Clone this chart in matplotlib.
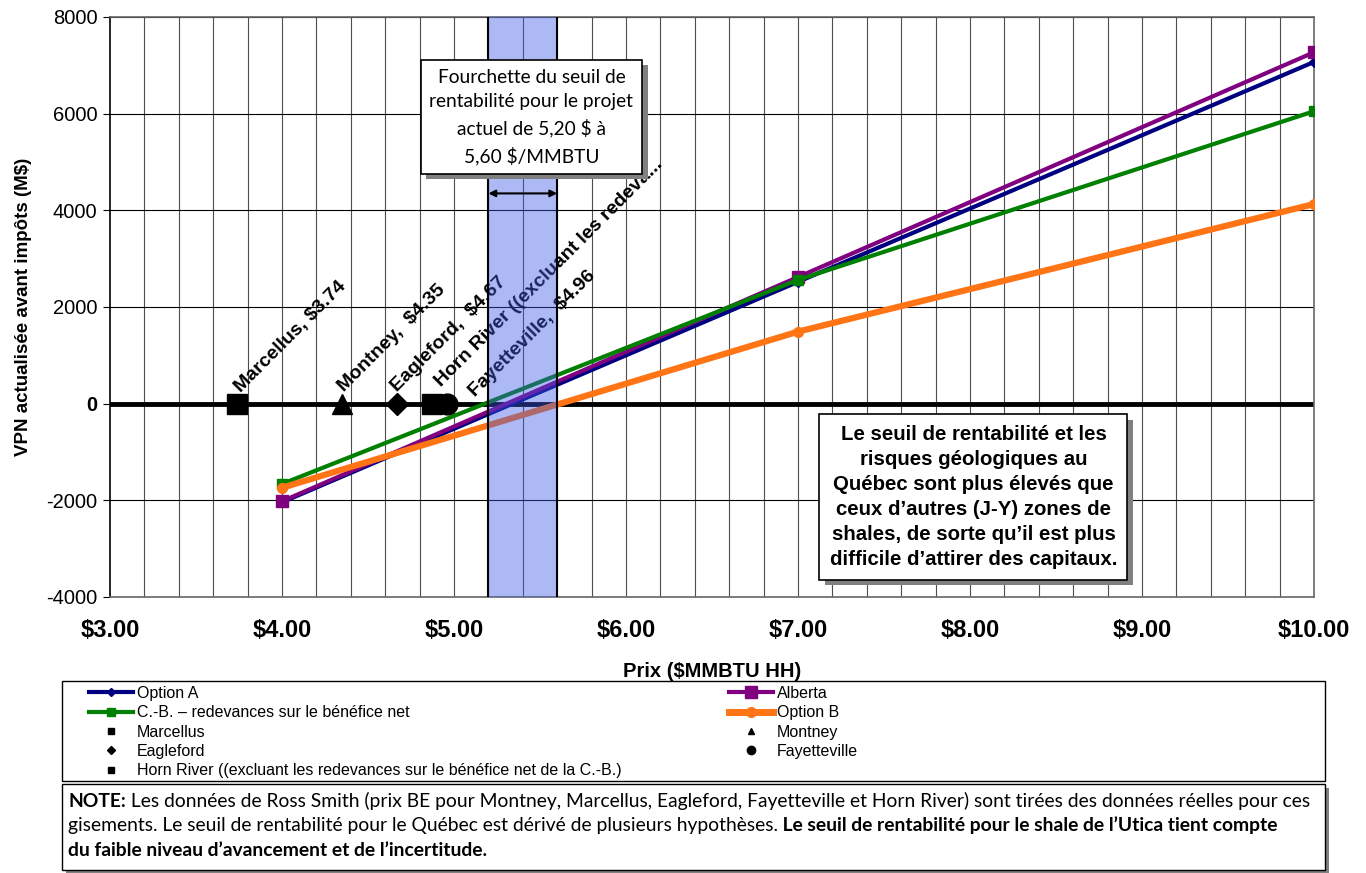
import numpy as np
import matplotlib.pyplot as plt
import matplotlib
from matplotlib.lines import Line2D
from matplotlib.patches import Rectangle
from matplotlib.transforms import IdentityTransform
import matplotlib.patheffects as pe

matplotlib.rcParams["font.family"] = ["Liberation Sans", "DejaVu Sans"]

## Data
prices = [4.0, 7.0, 10.0]
option_a = [-2040, 2520, 7070]
alberta = [-2020, 2620, 7270]
cb_net = [-1660, 2560, 6050]
option_b = [-1740, 1490, 4130]

plays = ["Marcellus", "Montney", "Eagleford", "Horn River", "Fayetteville"]
play_price = [3.74, 4.35, 4.67, 4.87, 4.96]
play_npv = [0, 0, 0, 0, 0]
play_labels = ["Marcellus, $3.74", "Montney,  $4.35", "Eagleford,  $4.67",
               "Horn River ((excluant les redeva...", "Fayetteville,  $4.96"]
play_legend = ["Marcellus", "Montney", "Eagleford", "Fayetteville",
               "Horn River ((excluant les redevances sur le bénéfice net de la C.-B.)"]

be_low, be_high = 5.20, 5.60
xticks = [3, 4, 5, 6, 7, 8, 9, 10]
xtick_labels = ["$3.00", "$4.00", "$5.00", "$6.00", "$7.00", "$8.00", "$9.00", "$10.00"]
yticks = [-4000, -2000, 0, 2000, 4000, 6000, 8000]

W, H = 1366, 873
fig = plt.figure(figsize=(W / 100, H / 100), dpi=100)
ax = fig.add_axes([110 / W, 1 - 597 / H, (1314 - 110) / W, (597 - 17) / H])

ax.set_xlim(3, 10)
ax.set_ylim(-4000, 8000)

# grid: vertical every 0.2, horizontal every 2000
for gx in np.arange(3.2, 10.0, 0.2):
    ax.axvline(gx, color="#4d4d4d", lw=0.8, zorder=1)
for gy in yticks:
    ax.axhline(gy, color="black", lw=0.8, zorder=1)
ax.axhline(0, color="black", lw=3.5, zorder=2)

ax.plot(prices, option_a, color="#000080", lw=3, marker="D", ms=5, zorder=3)
ax.plot(prices, alberta, color="#800080", lw=3, marker="s", ms=9, zorder=3)
ax.plot(prices, cb_net, color="#008000", lw=3, marker="s", ms=7, zorder=3)
ax.plot(prices, option_b, color="#ff7415", lw=4.5, marker="o", ms=7, zorder=3)

markers = ["s", "^", "D", "s", "o"]
msizes = [14, 14, 11, 14, 15]
for p, v, m, s in zip(play_price, play_npv, markers, msizes):
    ax.plot([p], [v], marker=m, ms=s, color="black", ls="none", zorder=4)

label_off = [(4, 11), (2, 11), (0, 11), (10, 16), (28, 6)]
for p, v, lab, off in zip(play_price, play_npv, play_labels, label_off):
    ax.annotate(lab, (p, v), xytext=off, textcoords="offset pixels", rotation=45,
                rotation_mode="anchor", ha="left", va="baseline", fontsize=14,
                fontweight="bold", zorder=4)

# break-even range band
ax.axvspan(be_low, be_high, facecolor=(60 / 255, 90 / 255, 230 / 255), alpha=0.42,
           lw=0, zorder=5)
ax.axvline(be_low, color="black", lw=1.5, zorder=5)
ax.axvline(be_high, color="black", lw=1.5, zorder=5)
ax.annotate("", xy=(be_low, 4350), xytext=(be_high, 4350),
            arrowprops=dict(arrowstyle="<|-|>", color="black", lw=1.5,
                            shrinkA=0, shrinkB=0), zorder=6)

shadow = [pe.withSimplePatchShadow(offset=(4, -4), shadow_rgbFace="#808080", alpha=1)]
t1 = ax.text(5.45, 5935, "Fourchette du seuil de\nrentabilité pour le projet\nactuel de 5,20 $ à\n5,60 $/MMBTU",
             ha="center", va="center", fontsize=13.8, family=["Lato", "DejaVu Sans"],
             linespacing=1.56, zorder=7,
             bbox=dict(boxstyle="square,pad=0.45", fc="white", ec="black", lw=1.2))
t1.get_bbox_patch().set_path_effects(shadow)

t2 = ax.text(8.02, -1930, "Le seuil de rentabilité et les\nrisques géologiques au\nQuébec sont plus élevés que\n"
             "ceux d’autres (J-Y) zones de\nshales, de sorte qu’il est plus\ndifficile d’attirer des capitaux.",
             ha="center", va="center", fontsize=14.7, fontweight="bold", linespacing=1.41,
             zorder=7, bbox=dict(boxstyle="square,pad=0.5", fc="white", ec="black", lw=1.2))
t2.get_bbox_patch().set_path_effects(shadow)

ax.set_xticks(xticks)
ax.set_xticklabels(xtick_labels, fontsize=17, fontweight="bold")
ax.set_yticks(yticks)
ax.set_yticklabels([str(v) for v in yticks], fontsize=14.5)
for lab in ax.get_yticklabels():
    if lab.get_text() == "0":
        lab.set_fontweight("bold")
ax.tick_params(axis="x", length=0, pad=16)
ax.tick_params(axis="y", length=5, pad=4)
for s in ax.spines.values():
    s.set_color("#666666")
    s.set_linewidth(1.2)
ax.spines["left"].set_color("black")

ax.set_xlabel("Prix ($MMBTU HH)", fontsize=14.5, fontweight="bold", labelpad=14)
ax.set_ylabel("VPN actualisée avant impôts (M$)", fontsize=13.5, fontweight="bold", labelpad=10)

# legend: frame plus two columns of entries
fig.patches.append(Rectangle((62, H - 781), 1263, 100, transform=IdentityTransform(),
                             fc="white", ec="black", lw=1))
line_h = {
    "Option A": Line2D([], [], color="#000080", lw=3, marker="D", ms=4),
    "C.-B. – redevances sur le bénéfice net": Line2D([], [], color="#008000", lw=3, marker="s", ms=6),
    "Alberta": Line2D([], [], color="#800080", lw=3, marker="s", ms=8),
    "Option B": Line2D([], [], color="#ff7415", lw=5, marker="o", ms=7),
}
pt_h = [Line2D([], [], color="black", ls="none", marker=m, ms=ms)
        for m, ms in zip(["s", "^", "D", "o", "s"], [5, 5, 4, 6, 5])]
col1 = [line_h["Option A"], line_h["C.-B. – redevances sur le bénéfice net"], pt_h[0], pt_h[2], pt_h[4]]
col1_lab = ["Option A", "C.-B. – redevances sur le bénéfice net", play_legend[0], play_legend[2], play_legend[4]]
col2 = [line_h["Alberta"], line_h["Option B"], pt_h[1], pt_h[3]]
col2_lab = ["Alberta", "Option B", play_legend[1], play_legend[3]]
for hs, ls, x0 in [(col1, col1_lab, 89), (col2, col2_lab, 729)]:
    leg = fig.legend(hs, ls, loc="upper left", bbox_to_anchor=(x0 / W, 1 - 686 / H),
                     fontsize=11.5, frameon=False, handlelength=2.75, handletextpad=0.25,
                     labelspacing=0.27, borderaxespad=0, borderpad=0)

# note box with shadow
fig.patches.append(Rectangle((66, 0), 1263, H - 784 - 4, transform=IdentityTransform(),
                             fc="#808080", ec="none"))
fig.patches.append(Rectangle((62, 3), 1263, H - 784 - 3, transform=IdentityTransform(),
                             fc="white", ec="black", lw=1))

renderer = fig.canvas.get_renderer()


def draw_runs(x, y, runs):
    for s, w in runs:
        t = fig.text(x, y, s, transform=IdentityTransform(), fontsize=13.9,
                     fontweight=w, family=["Lato", "DejaVu Sans"], va="baseline")
        x = t.get_window_extent(renderer).x1


note_lines = [
    [("NOTE:", "bold"), (" Les données de Ross Smith (prix BE pour Montney, Marcellus, Eagleford, "
                         "Fayetteville et Horn River) sont tirées des données réelles pour ces", "normal")],
    [("gisements. Le seuil de rentabilité pour le Québec est dérivé de plusieurs hypothèses.", "normal"),
     (" Le seuil de rentabilité pour le shale de l’Utica tient compte", "bold")],
    [("du faible niveau d’avancement et de l’incertitude.", "bold")],
]
for i, runs in enumerate(note_lines):
    draw_runs(68, H - 807 - i * 24.5, runs)

fig.savefig("out.png", dpi=100)
